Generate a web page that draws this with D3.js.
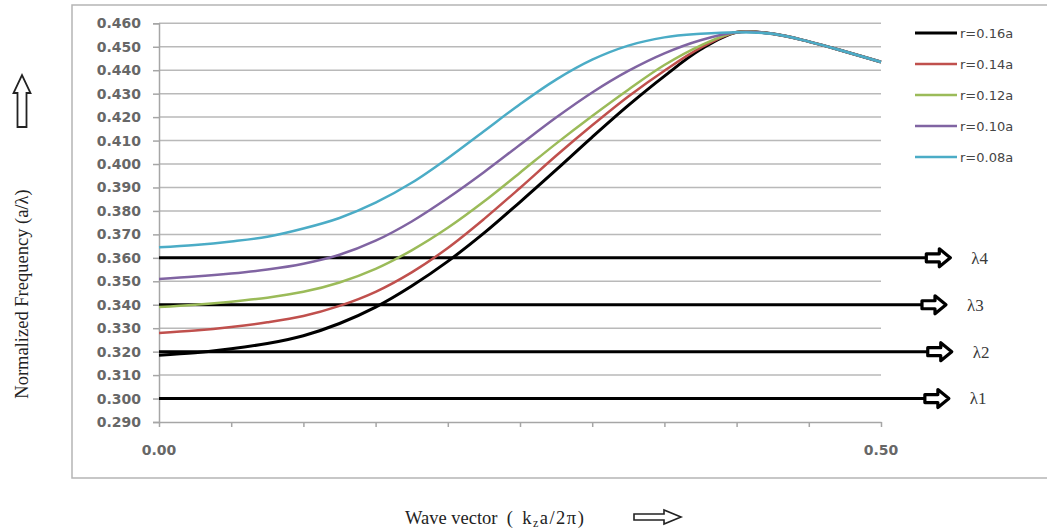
<!DOCTYPE html>
<html>
<head>
<meta charset="utf-8">
<script src="https://cdn.jsdelivr.net/npm/d3@7"></script>
<style>
  body { margin: 0; background: #fff; }
  svg { display: block; }
</style>
</head>
<body>
<svg id="chart" width="1047" height="532"></svg>
<script>
// wave vector samples (k_z a / 2pi)
const kValues = [0, 0.025, 0.05, 0.075, 0.1, 0.125, 0.15, 0.175, 0.2, 0.225, 0.25,
                 0.275, 0.3, 0.325, 0.35, 0.375, 0.4, 0.425, 0.45, 0.475, 0.5];

// normalized frequency for each rod radius
const r016 = [0.3185, 0.3195, 0.3212, 0.3235, 0.3268, 0.332, 0.339, 0.348, 0.3585, 0.3705, 0.3838,
              0.3975, 0.4115, 0.425, 0.4375, 0.4488, 0.4562, 0.4555, 0.4522, 0.448, 0.4435];
const r014 = [0.328, 0.329, 0.3305, 0.3325, 0.3352, 0.3395, 0.3455, 0.3538, 0.3642, 0.3765, 0.3898,
              0.4035, 0.4165, 0.4288, 0.4398, 0.4495, 0.4562, 0.4555, 0.4522, 0.448, 0.4435];
const r012 = [0.339, 0.340, 0.3413, 0.343, 0.3455, 0.3495, 0.3553, 0.3632, 0.3728, 0.384, 0.3963,
              0.4087, 0.4205, 0.4317, 0.4422, 0.4505, 0.4562, 0.4555, 0.4522, 0.448, 0.4435];
const r010 = [0.351, 0.352, 0.3533, 0.355, 0.3575, 0.3613, 0.3673, 0.3755, 0.3855, 0.3965, 0.4082,
              0.4198, 0.4305, 0.4397, 0.4472, 0.4528, 0.4562, 0.4555, 0.4522, 0.448, 0.4435];
const r008 = [0.3645, 0.3655, 0.367, 0.369, 0.3725, 0.377, 0.3835, 0.392, 0.4025, 0.414, 0.4255,
              0.436, 0.4445, 0.4505, 0.454, 0.4555, 0.4562, 0.4555, 0.4522, 0.448, 0.4435];

const seriesNames = ['r=0.16a', 'r=0.14a', 'r=0.12a', 'r=0.10a', 'r=0.08a'];
const seriesValues = [r016, r014, r012, r010, r008];
const seriesColors = ['#000000', '#c0504d', '#9bbb59', '#8064a2', '#4bacc6'];

const yTicks = d3.range(29, 47).map(d => d / 100);
const xLabels = [0, 0.5];
const xTicks = d3.range(0, 11).map(d => d * 0.05);

// wavelength marker lines: level and where the arrow tip sits (in k units)
const lambdaNames = ['\u03bb4', '\u03bb3', '\u03bb2', '\u03bb1'];
const lambdaLevels = [0.36, 0.34, 0.32, 0.30];
const lambdaTips = [0.548, 0.545, 0.549, 0.547];

const svg = d3.select('#chart');

const x = d3.scaleLinear().domain([0, 0.5]).range([159, 881]);
const y = d3.scaleLinear().domain([0.29, 0.46]).range([422, 23.3]);

// outer chart frame
svg.append('rect')
    .attr('x', 72).attr('y', 5)
    .attr('width', 1000).attr('height', 473)
    .attr('fill', '#fff')
    .attr('stroke', '#b5b5b5')
    .attr('stroke-width', 1.5);

// gridlines
svg.append('g')
    .selectAll('line')
    .data(yTicks.filter(d => d > 0.295))
    .enter().append('line')
    .attr('x1', x(0)).attr('x2', x(0.5))
    .attr('y1', d => y(d)).attr('y2', d => y(d))
    .attr('stroke', '#b9b9b9')
    .attr('stroke-width', 1.5);

// y axis
const yAxis = svg.append('g')
    .attr('transform', `translate(${x(0)},0)`)
    .call(d3.axisLeft(y).tickValues(yTicks).tickFormat(d3.format('.3f')).tickSize(6).tickPadding(12));
yAxis.select('.domain').attr('stroke', '#a6a6a6').attr('stroke-width', 1.5);
yAxis.selectAll('.tick line').attr('stroke', '#a6a6a6').attr('stroke-width', 1.5);
yAxis.selectAll('.tick text')
    .attr('fill', '#676767')
    .style('font-family', '"DejaVu Sans", sans-serif')
    .style('font-weight', 'bold')
    .style('font-size', '14px');

// x axis
const xAxis = svg.append('g')
    .attr('transform', `translate(0,${y(0.29)})`)
    .call(d3.axisBottom(x).tickValues(xTicks).tickFormat('').tickSize(5).tickSizeOuter(0));
xAxis.select('.domain').attr('stroke', '#a6a6a6').attr('stroke-width', 1.5);
xAxis.selectAll('.tick line').attr('stroke', '#a6a6a6').attr('stroke-width', 1.5);

svg.append('g')
    .selectAll('text')
    .data(xLabels)
    .enter().append('text')
    .attr('x', d => x(d))
    .attr('y', y(0.29) + 33)
    .attr('text-anchor', 'middle')
    .attr('fill', '#676767')
    .style('font-family', '"DejaVu Sans", sans-serif')
    .style('font-weight', 'bold')
    .style('font-size', '14px')
    .text(d => d3.format('.2f')(d));

// hollow block arrow pointing right, tip at (tx, cy)
function rightArrow(x0, tx, cy, shaftH, headH, headL) {
    const hx = tx - headL;
    return `M${x0},${cy - shaftH} L${hx},${cy - shaftH} L${hx},${cy - headH} L${tx},${cy} ` +
           `L${hx},${cy + headH} L${hx},${cy + shaftH} L${x0},${cy + shaftH} Z`;
}
function upArrow(cx, y0, ty, shaftW, headW, headL) {
    const hy = ty + headL;
    return `M${cx - shaftW},${y0} L${cx - shaftW},${hy} L${cx - headW},${hy} L${cx},${ty} ` +
           `L${cx + headW},${hy} L${cx + shaftW},${hy} L${cx + shaftW},${y0} Z`;
}

// lambda lines
const lam = svg.append('g');
lambdaLevels.forEach((v, i) => {
    const tip = x(lambdaTips[i]);
    lam.append('line')
        .attr('x1', x(0)).attr('x2', tip - 22)
        .attr('y1', y(v)).attr('y2', y(v))
        .attr('stroke', '#000')
        .attr('stroke-width', 3);
    lam.append('path')
        .attr('d', rightArrow(tip - 24, tip, y(v), 4, 9, 11))
        .attr('fill', '#fff')
        .attr('stroke', '#000')
        .attr('stroke-width', 3.2)
        .attr('stroke-linejoin', 'round');
    lam.append('text')
        .attr('x', tip + 21)
        .attr('y', y(v))
        .attr('dy', '0.35em')
        .attr('fill', '#3a3a3a')
        .style('font-family', '"Liberation Serif", serif')
        .style('font-size', '17px')
        .text(lambdaNames[i]);
});

// curves
const line = d3.line()
    .x((d, i) => x(kValues[i]))
    .y(d => y(d))
    .curve(d3.curveCatmullRom.alpha(0.5));

svg.append('g')
    .selectAll('path')
    .data(seriesValues)
    .enter().append('path')
    .attr('d', d => line(d))
    .attr('fill', 'none')
    .attr('stroke', (d, i) => seriesColors[i])
    .attr('stroke-width', (d, i) => i === 0 ? 3 : 2.5)
    .attr('stroke-linejoin', 'round');

// legend
const legend = svg.append('g')
    .selectAll('g')
    .data(seriesNames)
    .enter().append('g')
    .attr('transform', (d, i) => `translate(915,${33 + i * 31})`);
legend.append('line')
    .attr('x1', 0).attr('x2', 42)
    .attr('stroke', (d, i) => seriesColors[i])
    .attr('stroke-width', (d, i) => i === 0 ? 3 : 2.5);
legend.append('text')
    .attr('x', 45)
    .attr('dy', '0.35em')
    .attr('fill', '#454545')
    .style('font-family', '"DejaVu Sans", sans-serif')
    .style('font-size', '13px')
    .text(d => d);

// axis titles
svg.append('text')
    .attr('transform', 'translate(22,294) rotate(-90)')
    .attr('text-anchor', 'middle')
    .attr('dy', '0.35em')
    .attr('fill', '#222')
    .style('font-family', '"Liberation Serif", serif')
    .style('font-size', '18.5px')
    .text('Normalized Frequency (a/\u03bb)');

svg.append('path')
    .attr('d', upArrow(22, 127, 75, 4.5, 8.5, 18))
    .attr('fill', '#fff')
    .attr('stroke', '#222')
    .attr('stroke-width', 1.8);

const xt = svg.append('text')
    .attr('x', 405)
    .attr('y', 524)
    .attr('fill', '#222')
    .style('font-family', '"Liberation Serif", serif')
    .style('font-size', '18.5px')
    .attr('xml:space', 'preserve');
xt.append('tspan').text('Wave vector  (  ');
const kz = xt.append('tspan').style('letter-spacing', '1.5px');
kz.append('tspan').text('k');
kz.append('tspan').attr('dy', 3).style('font-size', '12px').text('z');
kz.append('tspan').attr('dy', -3).text('a/2\u03c0)');

svg.append('path')
    .attr('d', rightArrow(634, 681, 517, 3, 7, 17))
    .attr('fill', '#fff')
    .attr('stroke', '#222')
    .attr('stroke-width', 1.6);
</script>
</body>
</html>
